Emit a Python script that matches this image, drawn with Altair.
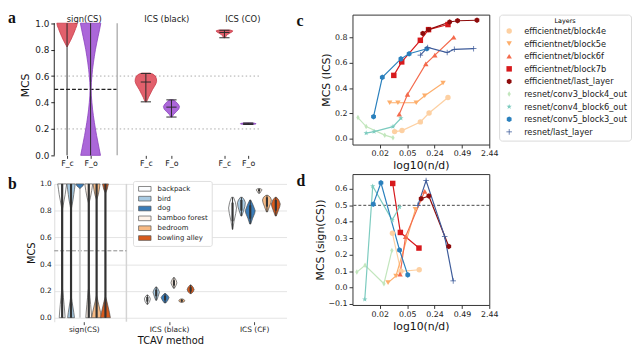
import altair as alt
import pandas as pd

FONT = "DejaVu Sans"
SERIF = "Liberation Serif"

# ======================= panel a : values =======================
a_methods = ["sign(CS)", "ICS (black)", "ICS (CO)"]
a_features = ["F_c", "F_o"]
a_sign_fc_y = [1.0, 0.98, 0.96, 0.93, 0.90, 0.87, 0.85, 0.83, 0.82]
a_sign_fc_w = [0.95, 0.9, 0.8, 0.66, 0.5, 0.33, 0.2, 0.07, 0.0]
a_sign_fo_y = [0.0, 0.05, 0.1, 0.15, 0.2, 0.25, 0.3, 0.35, 0.4, 0.45, 0.5,
               0.55, 0.6, 0.65, 0.7, 0.75, 0.8, 0.85, 0.9, 0.95, 1.0]
a_sign_fo_w = [0.92, 0.8, 0.68, 0.56, 0.45, 0.35, 0.26, 0.18, 0.12, 0.07, 0.05,
               0.07, 0.12, 0.18, 0.26, 0.35, 0.45, 0.57, 0.7, 0.83, 0.95]
a_black_fc_y = [0.405, 0.42, 0.44, 0.46, 0.48, 0.50, 0.52, 0.54, 0.56, 0.58, 0.60, 0.615, 0.622]
a_black_fc_w = [0.05, 0.15, 0.25, 0.38, 0.5, 0.63, 0.78, 0.92, 1.0, 0.98, 0.88, 0.65, 0.35]
a_black_fo_y = [0.29, 0.31, 0.33, 0.35, 0.37, 0.39, 0.41, 0.42]
a_black_fo_w = [0.05, 0.2, 0.45, 0.68, 0.75, 0.6, 0.35, 0.15]
a_co_fc_y = [0.89, 0.895, 0.905, 0.915, 0.925, 0.935, 0.942, 0.948]
a_co_fc_w = [0.05, 0.1, 0.18, 0.3, 0.5, 0.72, 0.78, 0.55]
a_co_fo_y = [0.234, 0.237, 0.240, 0.243, 0.245]
a_co_fo_w = [0.3, 0.7, 0.72, 0.6, 0.25]
# min, max, median of the ICS violins
a_black_fc_box = [0.405, 0.62, 0.555]
a_black_fo_box = [0.29, 0.42, 0.365]
a_co_fc_box = [0.89, 0.947, 0.93]
a_co_fo_box = [0.234, 0.245, 0.239]
a_sign_range = [0.0, 1.0]
a_ref_levels = [0.2, 0.6]
a_chance = [0.5]

# ======================= panel b : values =======================
b_methods = ["sign(CS)", "ICS (black)", "ICS (CF)"]
b_concepts = ["backpack", "bird", "dog", "bamboo forest", "bedroom", "bowling alley"]
b_colors = ["#fbfdff", "#a9cbe3", "#3a7cb8", "#fff3e9", "#f8ba84", "#d85a1c"]
b_sign_y = {
    "backpack": [0.0, 0.05, 0.10, 0.15, 0.20, 0.23, 0.80, 0.84, 0.88, 0.92, 0.96, 1.0],
    "bird": [0.0, 0.04, 0.08, 0.12, 0.17, 0.80, 0.84, 0.88, 0.92, 0.96, 1.0],
    "dog": [0.965, 0.975, 0.985, 1.0],
    "bamboo forest": [0.0, 0.05, 0.10, 0.15, 0.20, 0.23, 0.85, 0.90, 0.95, 1.0],
    "bedroom": [0.0, 0.04, 0.08, 0.12, 0.17, 0.88, 0.92, 0.96, 1.0],
    "bowling alley": [0.0, 0.04, 0.08, 0.12, 0.16, 0.93, 0.96, 1.0],
}
b_sign_w = {
    "backpack": [0.6, 0.5, 0.38, 0.25, 0.12, 0.0, 0.0, 0.2, 0.4, 0.6, 0.75, 0.9],
    "bird": [0.7, 0.55, 0.38, 0.2, 0.0, 0.0, 0.2, 0.4, 0.55, 0.7, 0.85],
    "dog": [0.0, 0.3, 0.6, 0.8],
    "bamboo forest": [0.6, 0.5, 0.38, 0.25, 0.12, 0.0, 0.0, 0.35, 0.6, 0.8],
    "bedroom": [1.0, 0.8, 0.55, 0.3, 0.0, 0.0, 0.35, 0.55, 0.7],
    "bowling alley": [1.0, 0.8, 0.55, 0.3, 0.0, 0.0, 0.35, 0.6],
}
b_black_y = {
    "backpack": [0.10, 0.12, 0.14, 0.155, 0.17],
    "bird": [0.13, 0.16, 0.19, 0.21, 0.23],
    "dog": [0.11, 0.13, 0.15, 0.165, 0.18],
    "bamboo forest": [0.22, 0.24, 0.26, 0.28, 0.30],
    "bedroom": [0.115, 0.12, 0.127, 0.134, 0.14],
    "bowling alley": [0.18, 0.195, 0.21, 0.228, 0.245],
}
b_black_w = {
    "backpack": [0.1, 0.45, 0.6, 0.45, 0.1],
    "bird": [0.1, 0.4, 0.65, 0.45, 0.1],
    "dog": [0.15, 0.55, 0.8, 0.55, 0.15],
    "bamboo forest": [0.1, 0.4, 0.6, 0.45, 0.1],
    "bedroom": [0.2, 0.5, 0.6, 0.5, 0.2],
    "bowling alley": [0.15, 0.55, 0.7, 0.5, 0.1],
}
b_cf_y = {
    "backpack": [0.66, 0.72, 0.78, 0.82, 0.86, 0.90],
    "bird": [0.76, 0.80, 0.83, 0.86, 0.88, 0.90],
    "dog": [0.70, 0.74, 0.78, 0.80, 0.84, 0.88],
    "bamboo forest": [0.93, 0.945, 0.955, 0.96, 0.965],
    "bedroom": [0.79, 0.83, 0.86, 0.88, 0.90, 0.915],
    "bowling alley": [0.76, 0.80, 0.83, 0.85, 0.88, 0.90],
}
b_cf_w = {
    "backpack": [0.05, 0.3, 0.65, 0.8, 0.6, 0.2],
    "bird": [0.1, 0.45, 0.7, 0.8, 0.6, 0.2],
    "dog": [0.1, 0.45, 0.9, 1.0, 0.6, 0.1],
    "bamboo forest": [0.15, 0.4, 0.6, 0.5, 0.2],
    "bedroom": [0.1, 0.5, 0.8, 0.9, 0.7, 0.2],
    "bowling alley": [0.1, 0.5, 0.8, 0.9, 0.6, 0.15],
}
b_chance = [0.5]

# ======================= panels c / d : values =======================
layer_names = ["efficientnet/block4e", "efficientnet/block5e", "efficientnet/block6f",
               "efficientnet/block7b", "efficientnet/last_layer", "resnet/conv3_block4_out",
               "resnet/conv4_block6_out", "resnet/conv5_block3_out", "resnet/last_layer"]
layer_colors = ["#fdd0a2", "#fdae6b", "#f46a4c", "#d7191c", "#8e0b0b",
                "#c2e6bd", "#7ccbbf", "#2a80bd", "#3d5b9a"]
x_tick_labels = ["0.02", "0.05", "0.24", "0.49", "2.44"]

c_x_block4e = [1.54, 1.81, 2.48, 2.80, 3.49]
c_y_block4e = [0.058, 0.066, 0.134, 0.204, 0.326]
c_x_block5e = [1.36, 1.66, 2.33, 2.64, 3.31]
c_y_block5e = [0.285, 0.285, 0.285, 0.34, 0.44]
c_x_block6f = [1.71, 2.01, 2.68, 3.01, 3.70]
c_y_block6f = [0.195, 0.35, 0.59, 0.66, 0.80]
c_x_block7b = [1.51, 1.80, 2.48, 2.78, 3.49]
c_y_block7b = [0.50, 0.606, 0.776, 0.86, 0.90]
c_x_eff_last = [2.57, 2.78, 3.55, 3.84, 4.55]
c_y_eff_last = [0.83, 0.86, 0.92, 0.93, 0.934]
c_x_conv3 = [0.20, 0.50, 1.18, 1.48]
c_y_conv3 = [0.168, 0.097, 0.03, 0.01]
c_x_conv4 = [0.50, 0.79, 1.48, 1.77]
c_y_conv4 = [0.046, 0.058, 0.097, 0.163]
c_x_conv5 = [0.77, 1.09, 1.77, 2.07, 2.72]
c_y_conv5 = [0.175, 0.485, 0.63, 0.67, 0.71]
c_x_res_last = [2.48, 2.75, 3.46, 3.72, 4.43]
c_y_res_last = [0.66, 0.72, 0.68, 0.705, 0.71]

d_x_block4e = [1.46, 1.77, 2.44]
d_y_block4e = [0.33, 0.099, 0.108]
d_x_block5e = [1.30, 1.59, 2.30]
d_y_block5e = [0.03, 0.07, 0.475]
d_x_block6f = [1.74, 1.94, 2.64]
d_y_block6f = [0.082, 0.31, 0.585]
d_x_block7b = [1.47, 1.75, 2.43]
d_y_block7b = [0.633, 0.335, 0.24]
d_x_eff_last = [2.51, 2.79, 3.52]
d_y_eff_last = [0.54, 0.557, 0.25]
d_x_conv3 = [0.16, 0.46, 1.15, 1.44]
d_y_conv3 = [0.094, 0.135, 0.023, 0.225]
d_x_conv4 = [0.45, 0.74, 1.45, 1.72]
d_y_conv4 = [-0.072, 0.616, 0.41, 0.49]
d_x_conv5 = [0.76, 1.04, 1.72, 2.02]
d_y_conv5 = [0.507, 0.637, 0.228, 0.077]
d_x_res_last = [2.39, 2.69, 3.37, 3.68]
d_y_res_last = [0.50, 0.65, 0.31, 0.04]
d_chance = [0.5]

# ======================= layout / style =======================
RED, RED_EDGE = "#e0525f", "#c83a48"
PURPLE, PURPLE_EDGE = "#a45ad6", "#8a40bd"
A_POS = {"sign(CS)": (0.5, 1.42), "ICS (black)": (3.58, 4.58), "ICS (CO)": (6.65, 7.58)}
A_TITLE_X = [1.15, 4.38, 7.35]
A_SEP = 2.46
A_HW = 0.42
A_CAP = 0.2
B_OFF = [-0.254, -0.15, -0.046, 0.058, 0.15, 0.254]
B_HW = 0.058
B_SEP = 0.5
DASHES = {"backpack": [2, 1.5], "bamboo forest": [2, 1.5]}
SHAPES = ["circle", "triangle-down", "triangle-up", "square",
          "M0,-1L0.866,-0.5L0.866,0.5L0,1L-0.866,0.5L-0.866,-0.5Z",
          "M0,-1L0.6,0L0,1L-0.6,0Z",
          "M0,-1L0.235,-0.324L0.951,-0.309L0.38,0.124L0.588,0.809L0,0.4L-0.588,0.809L-0.38,0.124L-0.951,-0.309L-0.235,-0.324Z",
          "M0,-1L0.866,-0.5L0.866,0.5L0,1L-0.866,0.5L-0.866,-0.5Z",
          "M-1,-0.13H-0.13V-1H0.13V-0.13H1V0.13H0.13V1H-0.13V0.13H-1Z"]
SIZES = [30, 32, 22, 42, 36, 30, 42, 34, 40]


def panel_label(letter, x, y):
    return alt.Chart(pd.DataFrame({"lab": [letter]})).mark_text(
        font=SERIF, fontWeight="bold", fontSize=16, align="left", baseline="alphabetic",
        color="#111").encode(x=alt.value(x), y=alt.value(y), text="lab:N")


# ======================= panel a =======================
a_prof = {("sign(CS)", "F_c"): (a_sign_fc_y, a_sign_fc_w),
          ("sign(CS)", "F_o"): (a_sign_fo_y, a_sign_fo_w),
          ("ICS (black)", "F_c"): (a_black_fc_y, a_black_fc_w),
          ("ICS (black)", "F_o"): (a_black_fo_y, a_black_fo_w),
          ("ICS (CO)", "F_c"): (a_co_fc_y, a_co_fc_w),
          ("ICS (CO)", "F_o"): (a_co_fo_y, a_co_fo_w)}
a_box = {("ICS (black)", "F_c"): a_black_fc_box, ("ICS (black)", "F_o"): a_black_fo_box,
         ("ICS (CO)", "F_c"): a_co_fc_box, ("ICS (CO)", "F_o"): a_co_fo_box}
rows = []
for (m, f), (ys, ws) in a_prof.items():
    c = A_POS[m][a_features.index(f)]
    for y, w in zip(ys, ws):
        rows.append({"vid": m + f, "feature": f, "y": y, "xl": c - w * A_HW, "xr": c + w * A_HW})
df_a = pd.DataFrame(rows)
whisk, caps = [], []
for (m, f), (lo, hi, med) in a_box.items():
    c = A_POS[m][a_features.index(f)]
    whisk.append({"x": c, "y": lo, "y2": hi})
    for v in (lo, hi, med):
        caps.append({"y": v, "x1": c - A_CAP, "x2": c + A_CAP})
for f in a_features:
    whisk.append({"x": A_POS["sign(CS)"][a_features.index(f)], "y": a_sign_range[0], "y2": a_sign_range[1]})
df_whisk = pd.DataFrame(whisk)
df_caps = pd.DataFrame(caps)

xa = alt.Scale(domain=[0, 8], nice=False, zero=False)
ya = alt.Scale(domain=[0, 1.065], nice=False, zero=False)
fc_pos = [A_POS[m][0] for m in a_methods]
all_pos = sorted([p for m in a_methods for p in A_POS[m]])
bottom_axis = alt.Axis(values=all_pos, labelExpr="indexof(%s, datum.value) >= 0 ? 'F_c' : 'F_o'" % fc_pos,
                       title=None, domain=False, ticks=True, tickSize=3, tickColor="#333",
                       labelFontSize=8, labelPadding=1.5, grid=False, labelFlush=False)
top_axis = alt.Axis(orient="top", values=A_TITLE_X, offset=-10,
                    labelExpr="%s[indexof(%s, datum.value)]" % (a_methods, A_TITLE_X),
                    ticks=False, domain=False, labelPadding=1, labelFontSize=8.5, title=None,
                    grid=False, labelFlush=False)
ya_axis = alt.Axis(values=[0, 0.2, 0.4, 0.6, 0.8, 1.0], format=".1f", title="MCS", titleFontSize=11,
                   titleFontWeight="normal", labelFontSize=9, tickSize=3.5, domain=False,
                   tickColor="#222", grid=False, titlePadding=4, labelFlush=False)


def YA(field):
    return alt.Y(field, scale=ya, axis=ya_axis)


a_spine = alt.Chart(pd.DataFrame({"y": [a_sign_range[0]], "y2": [a_sign_range[1]]})).mark_rule(
    color="#222", strokeWidth=1).encode(x=alt.value(0), y=YA("y:Q"), y2="y2:Q")
a_ref = alt.Chart(pd.DataFrame({"y": a_ref_levels})).mark_rule(
    color="#a0a0a0", strokeDash=[1.5, 2.5], strokeWidth=0.9).encode(y=YA("y:Q"))
a_ch = alt.Chart(pd.DataFrame({"y": a_chance, "xs": [0.0], "xe": [A_SEP]})).mark_rule(
    color="#222", strokeDash=[4, 2], strokeWidth=1.2).encode(
    y=YA("y:Q"), x=alt.X("xs:Q", scale=xa, axis=None), x2="xe:Q")
a_sep = alt.Chart(pd.DataFrame({"x": [A_SEP], "y": [a_sign_range[0]], "y2": [a_sign_range[1]]})).mark_rule(
    color="#b8b8b8", strokeWidth=1.6).encode(
    x=alt.X("x:Q", scale=xa, axis=top_axis), y=YA("y:Q"), y2="y2:Q")
a_v_c = alt.Chart(df_a).transform_filter(alt.datum.feature == "F_c").mark_area(
    orient="horizontal", color=RED, fillOpacity=0.92, stroke=RED_EDGE, strokeWidth=0.8).encode(
    y=YA("y:Q"), x=alt.X("xl:Q", scale=xa, axis=bottom_axis), x2="xr:Q", detail="vid:N")
a_v_o = alt.Chart(df_a).transform_filter(alt.datum.feature == "F_o").mark_area(
    orient="horizontal", color=PURPLE, fillOpacity=0.92, stroke=PURPLE_EDGE, strokeWidth=0.8).encode(
    y=YA("y:Q"), x=alt.X("xl:Q", scale=xa, axis=None), x2="xr:Q", detail="vid:N")
a_w = alt.Chart(df_whisk).mark_rule(color="#2a2a2a", strokeWidth=1).encode(
    x=alt.X("x:Q", scale=xa, axis=None), y=YA("y:Q"), y2="y2:Q")
a_c = alt.Chart(df_caps).mark_rule(color="#2a2a2a", strokeWidth=1).encode(
    x=alt.X("x1:Q", scale=xa, axis=None), x2="x2:Q", y=YA("y:Q"))
chart_a = alt.layer(a_spine, a_ref, a_ch, a_sep, a_v_c, a_v_o, a_w, a_c,
                    panel_label("a", -47, 9)).properties(
    width=208, height=143).resolve_axis(x="independent")

# ======================= panel b =======================
rows, inner = [], []
for gi, (prof_y, prof_w) in enumerate([(b_sign_y, b_sign_w), (b_black_y, b_black_w), (b_cf_y, b_cf_w)]):
    for ci, con in enumerate(b_concepts):
        c = gi + B_OFF[ci]
        ys, ws = prof_y[con], prof_w[con]
        for y, w in zip(ys, ws):
            rows.append({"vid": "%d-%s" % (gi, con), "concept": con, "y": y,
                         "x": c - w * B_HW, "xr": c + w * B_HW})
        if gi == 0:
            inner.append({"x": c, "y": 0.0, "hi": 1.0, "q1": 0.0, "q3": 1.0,
                          "light": con == "dog"})
        else:
            inner.append({"x": c, "y": ys[0], "hi": ys[-1], "q1": ys[1], "q3": ys[-2], "light": False})
df_b = pd.DataFrame(rows)
df_inner = pd.DataFrame(inner)

xb = alt.Scale(domain=[-0.347, 2.38], nice=False, zero=False)
yb = alt.Scale(domain=[-0.03, 1.0], nice=False, zero=False)
b_legend = alt.Legend(orient="none", legendX=80, legendY=-3, title=None, labelFontSize=7,
                      symbolType="M-2,-0.75L2,-0.75L2,0.75L-2,0.75Z", symbolSize=40,
                      symbolStrokeColor="#555", symbolStrokeWidth=0.7, rowPadding=2,
                      fillColor="white", strokeColor="#dddddd", padding=4, cornerRadius=2,
                      symbolOffset=4, labelOffset=9)
b_x_axis = alt.Axis(values=[0, 1, 2], labelExpr="%s[datum.value]" % b_methods, title="TCAV method",
                    titleFontSize=10, titleFontWeight="normal", labelFontSize=7.5, tickSize=3,
                    tickColor="#444", domain=False, grid=False, titlePadding=3, labelPadding=1,
                    labelFlush=False)
b_y_axis = alt.Axis(values=[0, 0.2, 0.4, 0.6, 0.8, 1.0], format=".1f", title="MCS", titleFontSize=10,
                    titleFontWeight="normal", labelFontSize=7.5, ticks=False, grid=True,
                    gridColor="#e3e3e3", domainColor="#dcdcdc", titlePadding=3, labelPadding=3,
                    labelFlush=False)


def XB(field):
    return alt.X(field, scale=xb, axis=b_x_axis)


def YB(field):
    return alt.Y(field, scale=yb, axis=b_y_axis)


b_vsep = alt.Chart(pd.DataFrame({"x": [B_SEP]})).mark_rule(color="#d4d4d4", strokeWidth=1.5).encode(
    x=XB("x:Q"))
b_ch = alt.Chart(pd.DataFrame({"y": b_chance, "x": [-0.347], "xe": [B_SEP]})).mark_rule(
    color="#8a8a8a", strokeDash=[4, 2], strokeWidth=1).encode(y=YB("y:Q"), x=XB("x:Q"), x2="xe:Q")
b_light = alt.Chart(df_inner).transform_filter(alt.datum.light).mark_rule(
    color="#cfcfcf", strokeWidth=2).encode(x=XB("x:Q"), y=YB("y:Q"), y2="hi:Q")
b_viol = alt.Chart(df_b).mark_area(orient="horizontal", stroke="#4d4d4d", strokeWidth=0.7).encode(
    y=YB("y:Q"), x=XB("x:Q"), x2="xr:Q",
    fill=alt.Fill("concept:N", scale=alt.Scale(domain=b_concepts, range=b_colors), legend=b_legend),
    strokeDash=alt.StrokeDash("concept:N", scale=alt.Scale(
        domain=b_concepts, range=[DASHES.get(c, [1, 0]) for c in b_concepts]), legend=b_legend),
    detail="vid:N")
b_thin = alt.Chart(df_inner).transform_filter(~alt.datum.light).mark_rule(
    color="#333", strokeWidth=1).encode(x=XB("x:Q"), y=YB("y:Q"), y2="hi:Q")
b_thick = alt.Chart(df_inner).transform_filter(~alt.datum.light).mark_rule(
    color="#333", strokeWidth=2.2).encode(x=XB("x:Q"), y=YB("q1:Q"), y2="q3:Q")
chart_b = alt.layer(b_vsep, b_ch, b_light, b_viol, b_thin, b_thick, panel_label("b", -47, 5)).properties(
    width=236, height=140)

# ======================= panels c / d =======================
c_series = [(c_x_block4e, c_y_block4e), (c_x_block5e, c_y_block5e), (c_x_block6f, c_y_block6f),
            (c_x_block7b, c_y_block7b), (c_x_eff_last, c_y_eff_last), (c_x_conv3, c_y_conv3),
            (c_x_conv4, c_y_conv4), (c_x_conv5, c_y_conv5), (c_x_res_last, c_y_res_last)]
d_series = [(d_x_block4e, d_y_block4e), (d_x_block5e, d_y_block5e), (d_x_block6f, d_y_block6f),
            (d_x_block7b, d_y_block7b), (d_x_eff_last, d_y_eff_last), (d_x_conv3, d_y_conv3),
            (d_x_conv4, d_y_conv4), (d_x_conv5, d_y_conv5), (d_x_res_last, d_y_res_last)]


def series_df(series):
    out = []
    for name, (xs, ys) in zip(layer_names, series):
        for x, y in zip(xs, ys):
            out.append({"layer": name, "x": x, "y": y})
    return pd.DataFrame(out)


df_c = series_df(c_series)
df_d = series_df(d_series)

xcd = alt.Scale(domain=[0, 5], nice=False, zero=False)
col_scale = alt.Scale(domain=layer_names, range=layer_colors)
shape_scale = alt.Scale(domain=layer_names, range=SHAPES)
size_scale = alt.Scale(domain=layer_names, range=SIZES)
cd_x_axis = alt.Axis(values=[1, 2, 3, 4, 5], labelExpr="%s[datum.value - 1]" % x_tick_labels,
                     title="log10(n/d)", titleFontSize=11, titleFontWeight="normal", labelFontSize=8,
                     tickSize=3.5, tickColor="#333", domain=False, grid=False, labelPadding=2,
                     titlePadding=2, labelFlush=False)
c_legend = alt.Legend(title="Layers", titleAnchor="middle", titleFontSize=6.5, titleFontWeight="normal",
                      labelFontSize=8.4, symbolSize=32, orient="right", offset=10, padding=4,
                      strokeColor="#d9d9d9", fillColor="white", cornerRadius=3, rowPadding=3.8,
                      labelLimit=220, titlePadding=2, labelOffset=11, symbolStrokeWidth=0,
                      symbolOffset=2)


def scatter_panel(df, ydom, yvals, ytitle, legend, height, label_y, letter, chance=None):
    ys = alt.Scale(domain=ydom, nice=False, zero=False)
    y_axis = alt.Axis(values=yvals, format=".1f", title=ytitle, titleFontSize=11,
                      titleFontWeight="normal", labelFontSize=8, tickSize=3.5, tickColor="#333",
                      domain=False, grid=False, titlePadding=3, labelPadding=2, labelFlush=False)
    X = alt.X("x:Q", scale=xcd, axis=cd_x_axis)
    Y = alt.Y("y:Q", scale=ys, axis=y_axis)
    if legend is not None:
        col = alt.Color("layer:N", scale=col_scale, legend=legend)
        shp = alt.Shape("layer:N", scale=shape_scale, legend=legend)
    else:
        col = alt.Color("layer:N", scale=col_scale, legend=None)
        shp = alt.Shape("layer:N", scale=shape_scale, legend=None)
    lines = alt.Chart(df).mark_line(strokeWidth=1.2).encode(x=X, y=Y, color=col, detail="layer:N")
    pts = alt.Chart(df).mark_point(filled=True, opacity=1).encode(
        x=X, y=Y, color=col, shape=shp, size=alt.Size("layer:N", scale=size_scale, legend=None))
    layers = []
    if chance is not None:
        layers.append(alt.Chart(pd.DataFrame({"y": chance})).mark_rule(
            color="#444", strokeDash=[3, 2], strokeWidth=1).encode(y=Y))
    layers += [lines, pts, panel_label(letter, -57, label_y)]
    return alt.layer(*layers).properties(
        width=139, height=height, view=alt.ViewBackground(stroke="#333", strokeWidth=1))


chart_c = scatter_panel(df_c, [-0.044, 0.978], [0, 0.2, 0.4, 0.6, 0.8], "MCS (ICS)", c_legend, 132, 12, "c")
chart_d = scatter_panel(df_d, [-0.106, 0.69], [-0.1, 0, 0.1, 0.2, 0.3, 0.4, 0.5, 0.6], "MCS (sign(CS))",
                        None, 133, 12, "d", chance=d_chance)

left = alt.vconcat(chart_a, chart_b, spacing=8).resolve_scale(
    fill="independent", strokeDash="independent")
right = alt.vconcat(chart_c, chart_d, spacing=1).resolve_scale(
    color="independent", shape="independent", size="independent")
chart = alt.concat(left, right, columns=2, spacing=9, align="none").properties(
    padding={"left": 0, "top": 0, "right": 0, "bottom": 0}
).configure_view(strokeWidth=0).configure_axis(
    labelFont=FONT, titleFont=FONT, labelColor="#222", titleColor="#111"
).configure_legend(labelFont=FONT, titleFont=FONT, labelColor="#222")

chart.save("out.html", embed_options={"renderer": "svg", "actions": False})
